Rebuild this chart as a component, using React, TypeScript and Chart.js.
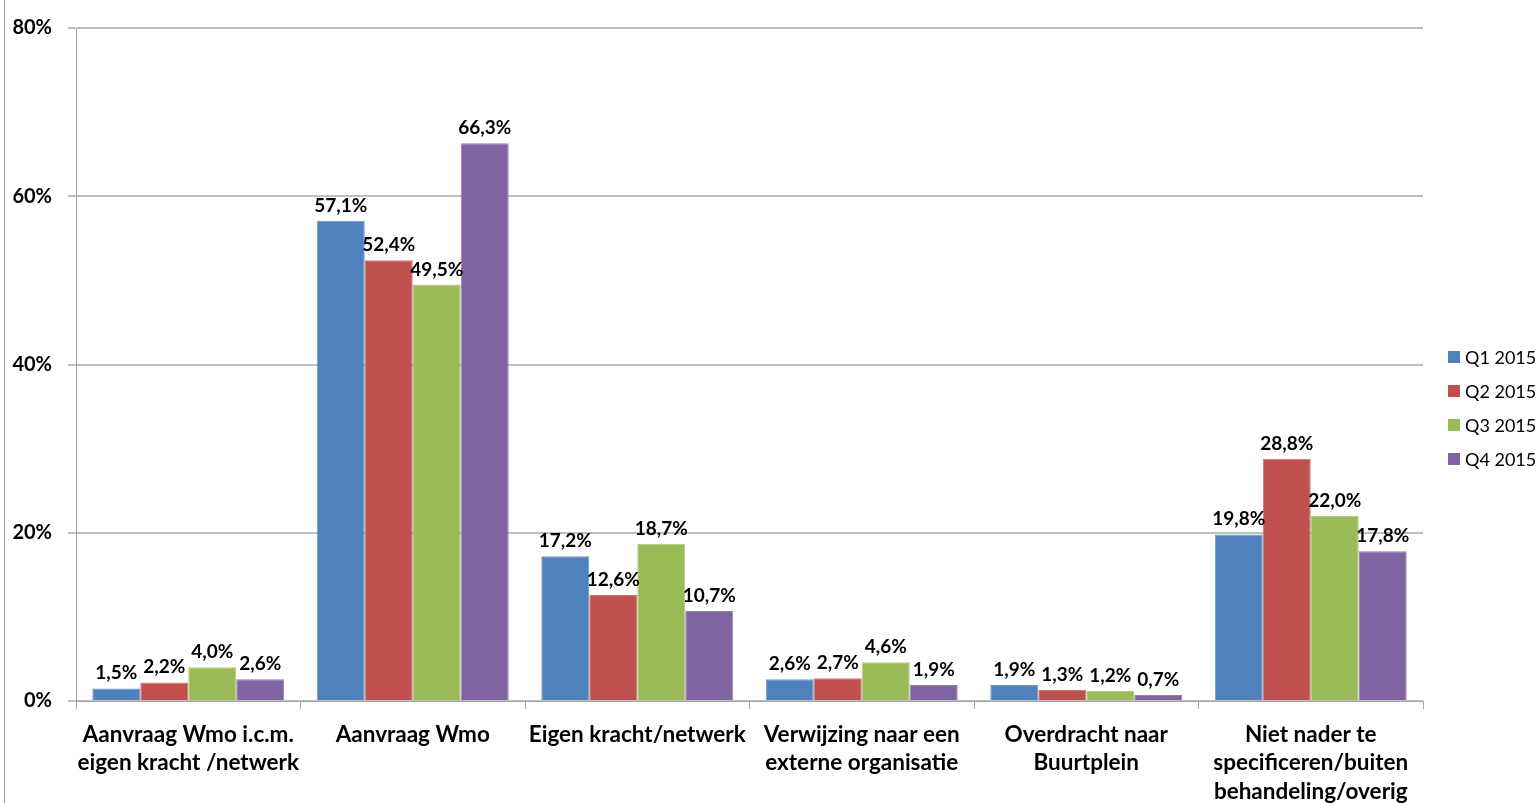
import React, { useEffect, useRef } from "react";
import { Chart, registerables } from "chart.js";

Chart.register(...registerables);

const categories: string[][] = [
  ["Aanvraag Wmo i.c.m.", "eigen kracht /netwerk"],
  ["Aanvraag Wmo"],
  ["Eigen kracht/netwerk"],
  ["Verwijzing naar een", "externe organisatie"],
  ["Overdracht naar", "Buurtplein"],
  ["Niet nader te", "specificeren/buiten", "behandeling/overig"],
];

const seriesNames = ["Q1 2015", "Q2 2015", "Q3 2015", "Q4 2015"];
const q1 = [1.5, 57.1, 17.2, 2.6, 1.9, 19.8];
const q2 = [2.2, 52.4, 12.6, 2.7, 1.3, 28.8];
const q3 = [4.0, 49.5, 18.7, 4.6, 1.2, 22.0];
const q4 = [2.6, 66.3, 10.7, 1.9, 0.7, 17.8];
const seriesValues = [q1, q2, q3, q4];
const colors = ["#4F81BD", "#C0504D", "#9BBB59", "#8064A2"];
const borderColors = ["#6f97c9", "#cc716e", "#afc87a", "#977fb3"];

const FONT = "Lato, 'Open Sans', sans-serif";

const fmt = (v: number) => v.toFixed(1).replace(".", ",") + "%";

const labelsPlugin = {
  id: "valueLabels",
  afterDatasetsDraw(chart: any) {
    const ctx = chart.ctx;
    ctx.save();
    ctx.font = `bold 19px ${FONT}`;
    ctx.fillStyle = "#000";
    ctx.textAlign = "center";
    ctx.textBaseline = "alphabetic";
    chart.data.datasets.forEach((ds: any, i: number) => {
      const meta = chart.getDatasetMeta(i);
      meta.data.forEach((bar: any, j: number) => {
        ctx.fillText(fmt(ds.data[j]), bar.x, bar.y - 9);
      });
    });
    ctx.restore();
  },
};

const legendPlugin = {
  id: "customLegend",
  afterDraw(chart: any) {
    const ctx = chart.ctx;
    ctx.save();
    ctx.font = `18px ${FONT}`;
    ctx.textBaseline = "middle";
    ctx.textAlign = "left";
    chart.data.datasets.forEach((ds: any, i: number) => {
      const cy = 357 + i * 34;
      ctx.fillStyle = ds.backgroundColor;
      ctx.fillRect(1448, cy - 6, 12, 12);
      ctx.fillStyle = "#000";
      ctx.fillText(ds.label, 1465, cy + 1);
    });
    // outer frame line on the left
    ctx.strokeStyle = "#9a9a9a";
    ctx.lineWidth = 1;
    ctx.beginPath();
    ctx.moveTo(4.5, 0);
    ctx.lineTo(4.5, chart.height);
    ctx.stroke();
    ctx.restore();
  },
};

export default function App() {
  const ref = useRef<HTMLCanvasElement>(null);
  useEffect(() => {
    if (!ref.current) return;
    const chart = new Chart(ref.current, {
      type: "bar",
      data: {
        labels: categories,
        datasets: seriesNames.map((name, i) => ({
          label: name,
          data: seriesValues[i],
          backgroundColor: colors[i],
          borderColor: borderColors[i],
          borderWidth: 1,
          categoryPercentage: 0.855,
          barPercentage: 1,
        })),
      },
      options: {
        responsive: false,
        animation: false,
        devicePixelRatio: 1,
        layout: { padding: { top: 26, right: 115, bottom: 0, left: 0 } },
        plugins: {
          legend: { display: false },
          tooltip: { enabled: false },
          title: { display: false },
        },
        scales: {
          x: {
            afterFit(scale: any) {
              scale.height = 102;
            },
            grid: {
              drawOnChartArea: false,
              drawTicks: true,
              tickLength: 8,
              offset: true,
              color: "#a6a6a6",
              lineWidth: 1,
            },
            border: { display: true, color: "#a6a6a6", width: 1 },
            ticks: {
              color: "#000",
              font: { family: FONT, size: 22.5, weight: "bold", lineHeight: 1.27 },
              padding: 11,
              maxRotation: 0,
              autoSkip: false,
            },
          },
          y: {
            min: 0,
            max: 80,
            afterFit(scale: any) {
              scale.width = 76;
            },
            grid: {
              color: "#bfbfbf",
              lineWidth: 2,
              tickLength: 8,
              drawTicks: true,
            },
            border: { display: true, color: "#a6a6a6", width: 1 },
            ticks: {
              stepSize: 20,
              color: "#000",
              padding: 16,
              font: { family: FONT, size: 20, weight: "bold" },
              callback: (v: any) => v + "%",
            },
          },
        },
      },
      plugins: [labelsPlugin, legendPlugin],
    } as any);
    return () => chart.destroy();
  }, []);
  return (
    <div style={{ position: "fixed", left: 0, top: 0, width: 1538, height: 803, background: "#fff" }}>
      <canvas ref={ref} width={1538} height={803} />
    </div>
  );
}
